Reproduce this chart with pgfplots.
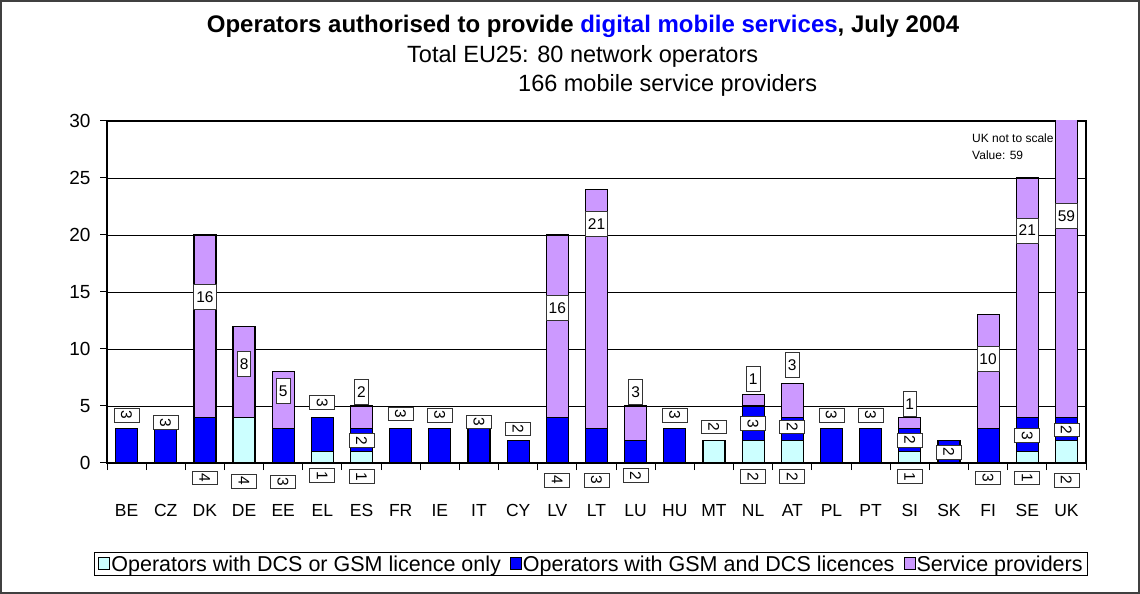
\documentclass[border=0pt]{standalone}
\usepackage{fontspec}
\setmainfont{Liberation Sans}
\usepackage{pgfplots}
\usepackage{pgfplotstable}
\pgfplotsset{compat=1.18}
\definecolor{dcsonly}{HTML}{CCFFFF}
\definecolor{gsmdcs}{HTML}{0000FF}
\definecolor{provider}{HTML}{CC99FF}

% operators per country: DCS or GSM only / GSM and DCS / service providers
\pgfplotstableread{
x cyan blue purple
0  0 3 0
1  0 3 0
2  0 4 16
3  4 0 8
4  0 3 5
5  1 3 0
6  1 2 2
7  0 3 0
8  0 3 0
9  0 3 0
10 0 2 0
11 0 4 16
12 0 3 21
13 0 2 3
14 0 3 0
15 2 0 0
16 2 3 1
17 2 2 3
18 0 3 0
19 0 3 0
20 1 2 1
21 0 2 0
22 0 3 10
23 1 3 21
24 2 2 59
}\ops

% upright data labels (service providers)
\pgfplotstableread{
x y lab
2  14.6 16
3  8.7  8
4  6.3  5
6  6.2  2
11 13.6 16
12 21.0 21
13 6.2  3
16 7.4  1
17 8.6  3
20 5.2  1
22 9.1  10
23 20.4 21
24 21.7 59
}\uprightlabels

% turned data labels (operators)
\pgfplotstableread{
x y lab
0  4.2   3
1  3.55  3
5  5.3   3
6  1.97  2
7  4.3   3
8  4.2   3
9  3.6   3
10 3.0   2
14 4.2   3
15 3.15  2
16 3.45  3
17 3.15  2
18 4.2   3
19 4.2   3
20 2.0   2
21 0.95  2
23 2.4   3
24 2.9   2
2  -1.3  4
3  -1.6  4
4  -1.67 3
5  -1.1  1
6  -1.2  1
11 -1.5  4
12 -1.5  3
13 -1.1  2
16 -1.2  2
17 -1.2  2
20 -1.2  1
22 -1.3  3
23 -1.3  1
24 -1.5  2
}\turnedlabels

\pgfplotsset{
  frame/.style={scale only axis, width=979pt, height=342pt,
    xmin=-0.5, xmax=24.5, ymin=0, ymax=30,
    at={(107pt,131pt)}, anchor=south west},
}
\tikzset{
  labelbox/.style={anchor=center, draw=black!80, fill=white, line width=0.8pt,
    font=\fontsize{15.5}{18}\selectfont, text height=11pt, text depth=0pt,
    inner xsep=2.5pt, inner ysep=7pt},
}

\begin{document}
\begin{tikzpicture}[x=1pt,y=1pt]
\begin{axis}[frame,
  ybar stacked, bar width=22pt,
  axis line style={black, line width=1.2pt},
  ytick={0,5,...,30}, ymajorgrids, grid style={black, line width=0.9pt},
  xtick={-0.5,0.5,...,24.5}, xticklabel=\empty,
  extra x ticks={0,...,24},
  extra x tick labels={BE,CZ,DK,DE,EE,EL,ES,FR,IE,IT,CY,LV,LT,LU,HU,MT,NL,AT,PL,PT,SI,SK,FI,SE,UK},
  extra x tick style={major tick length=0pt, grid=none},
  tick align=outside, tick pos=left, major tick length=7pt,
  tick style={black, line width=1pt},
  xticklabel style={font=\fontsize{17.5}{20}\selectfont, yshift=-38pt},
  yticklabel style={font=\fontsize{19}{22}\selectfont, xshift=-6pt},
  /pgf/number format/assume math mode=true,
  every axis plot/.append style={draw=black, line width=1.2pt},
  legend columns=3,
  legend cell align=left,
  legend style={at={(0.4944,-0.2953)}, anchor=center, draw=black, line width=1pt,
    font=\fontsize{21.5}{24}\selectfont, inner xsep=4pt, inner ysep=1pt,
    nodes={inner xsep=1pt, inner ysep=2pt},
    /tikz/every even column/.append style={column sep=8pt}},
  legend image code/.code={\draw[#1, draw=black, line width=1pt] (0pt,-6pt) rectangle (11pt,6pt);},
]
\addplot[fill=dcsonly] table[x=x, y=cyan] {\ops};
\addplot[fill=gsmdcs] table[x=x, y=blue] {\ops};
\addplot[fill=provider] table[x=x, y=purple] {\ops};
\legend{Operators with DCS or GSM licence only, Operators with GSM and DCS licences, Service providers}
\end{axis}

\begin{axis}[frame, hide axis, clip=false]
\addplot[only marks, mark=*, mark size=0pt, nodes near coords, point meta=explicit symbolic,
  nodes near coords style={labelbox}] table[x=x, y=y, meta=lab] {\uprightlabels};
\addplot[only marks, mark=*, mark size=0pt, nodes near coords, point meta=explicit symbolic,
  nodes near coords style={labelbox, rotate=-90}] table[x=x, y=y, meta=lab] {\turnedlabels};
\end{axis}

\node[anchor=base, font=\bfseries\fontsize{24}{28}\selectfont] at (583,561)
  {Operators authorised to provide \textcolor{gsmdcs}{digital mobile services}, July 2004};
\node[anchor=base west, inner sep=0pt, font=\fontsize{23.5}{28}\selectfont] at (407,531)
  {Total EU25: 80 network operators};
\node[anchor=base west, inner sep=0pt, font=\fontsize{23.5}{28}\selectfont] at (518,502)
  {166 mobile service providers};
\node[anchor=base west, inner sep=0pt, font=\fontsize{12}{14}\selectfont] at (972,451)
  {UK not to scale};
\node[anchor=base west, inner sep=0pt, font=\fontsize{12}{14}\selectfont] at (972,434)
  {Value: 59};

\pgfresetboundingbox
\path[use as bounding box] (0,0) rectangle (1140,594);
\draw[black!75, line width=2pt] (1,1) rectangle (1139,593);
\end{tikzpicture}
\end{document}
